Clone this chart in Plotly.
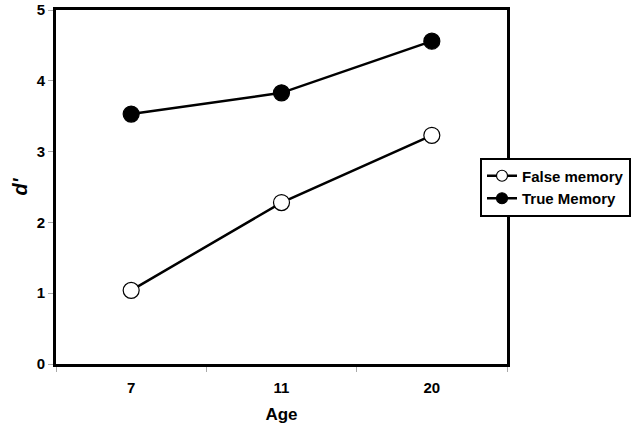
import plotly.graph_objects as go

ages = ["7", "11", "20"]
false_memory = [1.04, 2.28, 3.23]
true_memory = [3.53, 3.83, 4.56]

font_fam = "Liberation Sans, Arial, sans-serif"

series = [
    ("False memory", false_memory, "white"),
    ("True Memory", true_memory, "black"),
]

fig = go.Figure()
for name, vals, fill in series:
    fig.add_trace(go.Scatter(
        x=ages, y=vals, name=name, mode="lines+markers", showlegend=False,
        legendgroup=name,
        line=dict(color="black", width=2.5),
        marker=dict(symbol="circle", size=16, color=fill, line=dict(color="black", width=1.2)),
    ))
for name, vals, fill in series:
    # legend entry with the smaller legend marker
    fig.add_trace(go.Scatter(
        x=[None], y=[None], name=name, mode="lines+markers", legendgroup=name,
        line=dict(color="black", width=2.5),
        marker=dict(symbol="circle", size=11, color=fill, line=dict(color="black", width=1.2)),
    ))

fig.update_layout(
    width=637, height=430,
    margin=dict(l=56, r=130, t=10, b=66, autoexpand=False),
    paper_bgcolor="white", plot_bgcolor="white",
    font=dict(family=font_fam, color="black", size=15),
    showlegend=True,
    legend=dict(
        x=(631 - 56) / 451, y=0.5, xanchor="right", yanchor="middle",
        bgcolor="white", bordercolor="black", borderwidth=2,
        font=dict(family=font_fam, size=15, color="black", weight="bold"),
        tracegroupgap=0, itemwidth=30,
    ),
)
fig.update_xaxes(
    type="category", range=[-0.5, 2.5], automargin=False,
    showline=True, linecolor="black", linewidth=3, mirror=True,
    showgrid=False, tickson="boundaries", ticks="outside", ticklen=5, tickcolor="#aaaaaa",
    ticklabelstandoff=8,
    tickfont=dict(family=font_fam, size=15, weight="bold"),
    title=dict(text="Age", font=dict(family=font_fam, size=17, weight="bold"), standoff=14),
)
fig.update_yaxes(
    range=[0, 5], dtick=1, automargin=False,
    showline=True, linecolor="black", linewidth=3, mirror=True,
    showgrid=False, zeroline=False, ticks="outside", ticklen=5, tickcolor="#aaaaaa",
    tickfont=dict(family=font_fam, size=15, weight="bold"),
    title=dict(text="<i>d'</i>", font=dict(family=font_fam, size=20, weight="bold"), standoff=4),
)

fig.write_html("out.html", config={"displayModeBar": False},
               post_script="document.body.style.margin='0';")
